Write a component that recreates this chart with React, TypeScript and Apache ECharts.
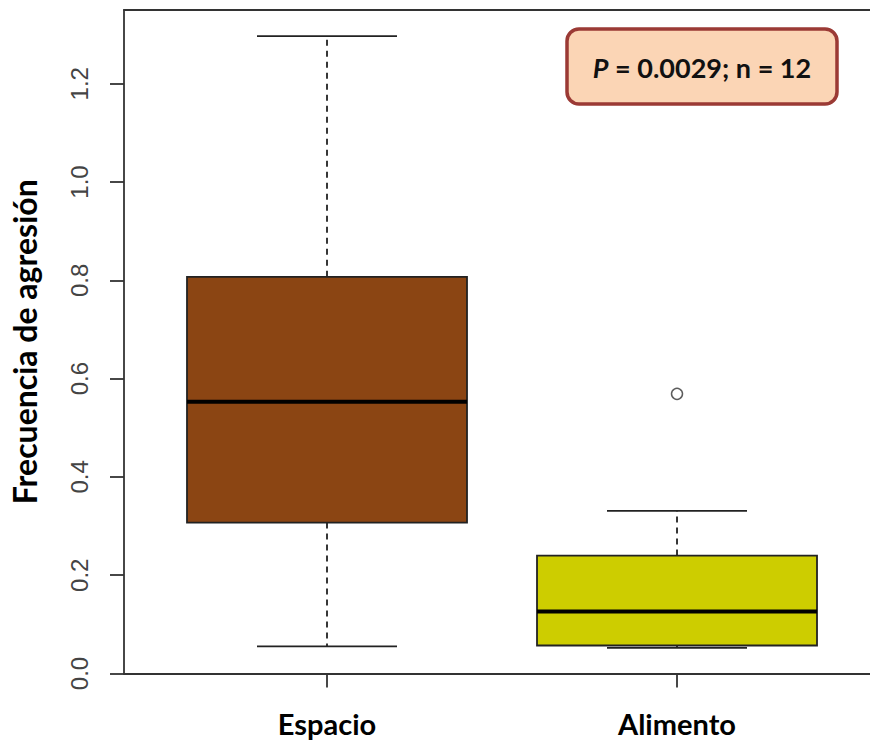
import React, { useEffect, useRef } from "react";
import * as echarts from "echarts";

const categories = ["Espacio", "Alimento"];
const categoryPositions = [1, 2];
// [min, Q1, median, Q3, max]
const espacioStats = [0.055, 0.307, 0.553, 0.807, 1.297];
const alimentoStats = [0.052, 0.057, 0.126, 0.24, 0.331];
const outlierPoints = [[2, 0.569]];
const yTicks = [0, 0.2, 0.4, 0.6, 0.8, 1.0, 1.2];
const boxColors = ["#8B4513", "#CDCD00"];
const annotationText = "{p|P} = 0.0029; n = 12";
const yTitle = "Frecuencia de agresión";

const boldFont = "Lato";
const X_MIN = 0.42;
const X_MAX = 2.5514;

export default function App() {
  const ref = useRef<HTMLDivElement>(null);

  useEffect(() => {
    document.body.style.margin = "0";
    const chart = echarts.init(ref.current!, undefined, { renderer: "svg" });
    const boxData = [espacioStats, alimentoStats].map((s, i) => [categoryPositions[i], ...s]);
    const frameLine = { show: true, lineStyle: { color: "#333", width: 1.8 } };
    chart.setOption({
      animation: false,
      grid: {
        left: 124,
        right: 0,
        top: 10,
        bottom: 68.5,
        show: false,
      },
      xAxis: [
        {
          type: "value",
          min: X_MIN,
          max: X_MAX,
          splitLine: { show: false },
          axisLine: frameLine,
          axisTick: { show: true, length: 14, customValues: categoryPositions, lineStyle: { color: "#333", width: 1.8 } },
          axisLabel: {
            customValues: categoryPositions,
            formatter: (v: number) => categories[categoryPositions.indexOf(v)] ?? "",
            fontSize: 29,
            fontWeight: "bold",
            fontFamily: boldFont,
            color: "#000",
            margin: 35,
          },
        },
        {
          type: "value",
          position: "top",
          min: X_MIN,
          max: X_MAX,
          splitLine: { show: false },
          axisLine: frameLine,
          axisTick: { show: false },
          axisLabel: { show: false },
        },
      ],
      yAxis: {
        type: "value",
        min: 0,
        max: 1.35,
        splitLine: { show: false },
        axisLine: frameLine,
        axisTick: { show: true, length: 14, customValues: yTicks, lineStyle: { color: "#333", width: 1.8 } },
        axisLabel: {
          customValues: yTicks,
          formatter: (v: number) => v.toFixed(1),
          rotate: 90,
          fontSize: 24,
          fontFamily: "Liberation Sans",
          color: "#444",
          margin: 33,
        },
        name: yTitle,
        nameLocation: "middle",
        nameRotate: 90,
        nameGap: 84,
        nameTextStyle: { fontSize: 32, fontWeight: "bold", fontFamily: boldFont, color: "#000" },
      },
      series: [
        {
          type: "custom",
          data: boxData,
          encode: { x: 0, y: [1, 2, 3, 4, 5] },
          renderItem: (params: any, api: any) => {
            const x = api.value(0);
            const mn = api.value(1);
            const q1 = api.value(2);
            const md = api.value(3);
            const q3 = api.value(4);
            const mx = api.value(5);
            const cx = api.coord([x, md])[0];
            const y = (v: number) => api.coord([x, v])[1];
            const bl = api.coord([x - 0.4, q3])[0];
            const br = api.coord([x + 0.4, q3])[0];
            const cl = api.coord([x - 0.2, q3])[0];
            const cr = api.coord([x + 0.2, q3])[0];
            const ink = "#222";
            const color = boxColors[params.dataIndex];
            return {
              type: "group",
              children: [
                { type: "line", shape: { x1: cx, y1: y(q3), x2: cx, y2: y(mx) }, style: { stroke: ink, lineWidth: 1.8, lineDash: [6, 5] } },
                { type: "line", shape: { x1: cx, y1: y(q1), x2: cx, y2: y(mn) }, style: { stroke: ink, lineWidth: 1.8, lineDash: [6, 5] } },
                { type: "line", shape: { x1: cl, y1: y(mx), x2: cr, y2: y(mx) }, style: { stroke: ink, lineWidth: 1.8 } },
                { type: "line", shape: { x1: cl, y1: y(mn), x2: cr, y2: y(mn) }, style: { stroke: ink, lineWidth: 1.8 } },
                { type: "rect", shape: { x: bl, y: y(q3), width: br - bl, height: y(q1) - y(q3) }, style: { fill: color, stroke: ink, lineWidth: 1.8 } },
                { type: "line", shape: { x1: bl, y1: y(md), x2: br, y2: y(md) }, style: { stroke: "#000", lineWidth: 4 } },
              ],
            };
          },
        },
        {
          type: "scatter",
          data: outlierPoints,
          symbol: "circle",
          symbolSize: 11,
          itemStyle: { color: "#fff", borderColor: "#333", borderWidth: 1.5 },
          z: 5,
        },
      ],
      graphic: [
        {
          type: "rect",
          shape: { x: 567, y: 29, width: 270, height: 75, r: 12 },
          style: { fill: "#FBD5B5", stroke: "#9B3A35", lineWidth: 3.5 },
          z: 10,
        },
        {
          type: "text",
          x: 702,
          y: 67,
          z: 11,
          style: {
            text: annotationText,
            fontSize: 27,
            fontWeight: "bold",
            fontFamily: boldFont,
            fill: "#111",
            align: "center",
            verticalAlign: "middle",
            rich: { p: { fontStyle: "italic", fontWeight: "bold", fontSize: 27, fontFamily: boldFont, fill: "#111" } },
          },
        },
      ],
    });
    return () => chart.dispose();
  }, []);

  return <div ref={ref} style={{ width: 870, height: 742 }} />;
}
